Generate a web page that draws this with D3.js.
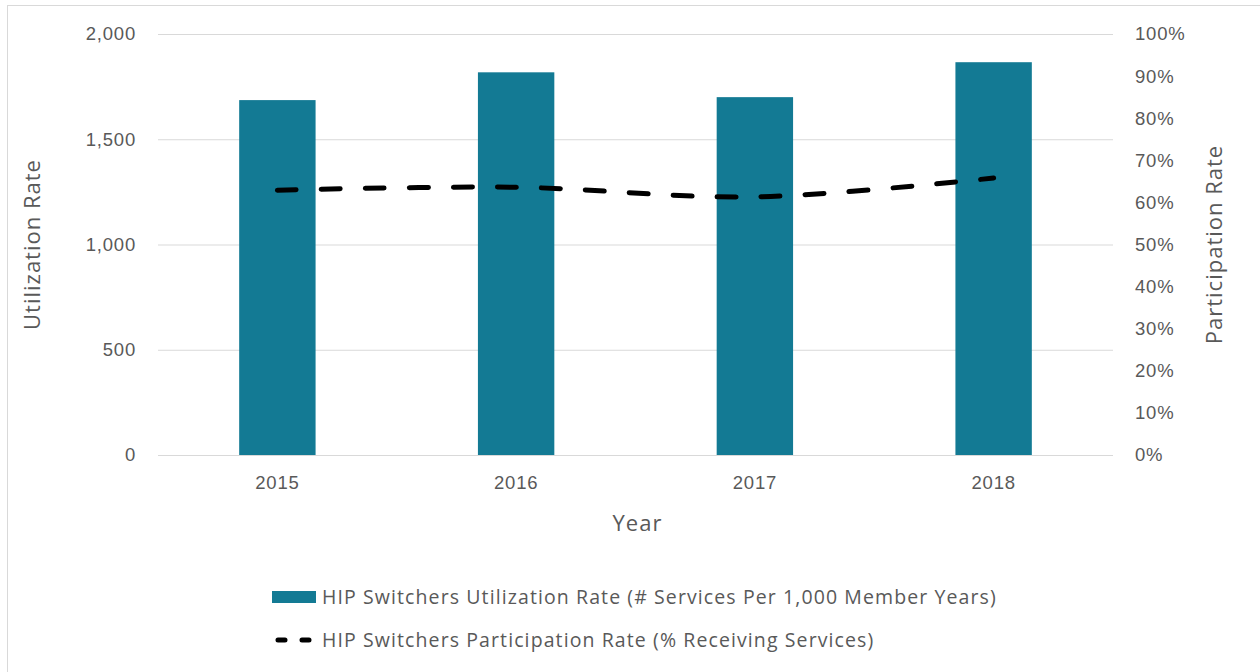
<!DOCTYPE html>
<html>
<head>
<meta charset="utf-8">
<script src="https://cdn.jsdelivr.net/npm/d3@7"></script>
<style>
  body { margin: 0; background: #fff; }
  svg { display: block; font-family: "Open Sans", sans-serif; }
</style>
</head>
<body>
<div id="chart"></div>
<script>
// Utilization (bars, left axis) + participation (dashed line, right axis)
const years = ['2015', '2016', '2017', '2018'];
const utilization = [1686, 1818, 1700, 1866];
const participation = [0.629, 0.636, 0.613, 0.658];
const leftTicks = [0, 500, 1000, 1500, 2000];
const rightTicks = [0, 0.1, 0.2, 0.3, 0.4, 0.5, 0.6, 0.7, 0.8, 0.9, 1];
const legendLabels = [
  'HIP Switchers Utilization Rate (# Services Per 1,000 Member Years)',
  'HIP Switchers Participation Rate (% Receiving Services)'
];

const W = 1260, H = 672;
const margin = { top: 34, right: 147, bottom: 217, left: 158 };
const iw = W - margin.left - margin.right;
const ih = H - margin.top - margin.bottom;
const barColor = '#137a94';
const textColor = '#595959';

const svg = d3.select('#chart').append('svg').attr('width', W).attr('height', H);

svg.append('rect')
  .attr('x', 7.5).attr('y', 5.5).attr('width', W).attr('height', H)
  .attr('fill', 'none').attr('stroke', '#d9d9d9');

const g = svg.append('g').attr('transform', `translate(${margin.left},${margin.top})`);

const x = d3.scaleBand().domain(years).range([0, iw]).paddingInner(0.68).paddingOuter(0.34);
const yL = d3.scaleLinear().domain([0, 2000]).range([ih, 0]);
const yR = d3.scaleLinear().domain([0, 1]).range([ih, 0]);

// gridlines
g.append('g').selectAll('line').data(leftTicks).join('line')
  .attr('x1', 0).attr('x2', iw)
  .attr('y1', d => yL(d) + 0.5).attr('y2', d => yL(d) + 0.5)
  .attr('stroke', '#d9d9d9').attr('stroke-width', 1);

// bars
g.append('g').selectAll('rect').data(years).join('rect')
  .attr('x', d => x(d))
  .attr('width', x.bandwidth())
  .attr('y', (d, i) => yL(utilization[i]))
  .attr('height', (d, i) => ih - yL(utilization[i]))
  .attr('fill', barColor);

// dashed line
const line = d3.line()
  .x((d, i) => x(years[i]) + x.bandwidth() / 2)
  .y(d => yR(d))
  .curve(d3.curveCatmullRom.alpha(0.5));

g.append('path')
  .datum(participation)
  .attr('d', line)
  .attr('fill', 'none')
  .attr('stroke', '#000')
  .attr('stroke-width', 5)
  .attr('stroke-linecap', 'round')
  .attr('stroke-dasharray', '19,25');

// axes
const axL = g.append('g')
  .call(d3.axisLeft(yL).tickValues(leftTicks).tickFormat(d3.format(',')).tickSize(0).tickPadding(22));
const axR = g.append('g').attr('transform', `translate(${iw},0)`)
  .call(d3.axisRight(yR).tickValues(rightTicks).tickFormat(d3.format('.0%')).tickSize(0).tickPadding(22));
const axB = g.append('g').attr('transform', `translate(0,${ih})`)
  .call(d3.axisBottom(x).tickSize(0).tickPadding(21));

[axL, axR, axB].forEach(a => {
  a.select('.domain').remove();
  a.selectAll('text').attr('fill', textColor)
    .style('font-size', '18.5px').style('letter-spacing', '0.8px');
});

// titles
const title = (sel) => sel.attr('text-anchor', 'middle').attr('fill', textColor)
  .style('font-size', '22px').style('letter-spacing', '1px');

svg.append('text')
  .attr('transform', `translate(40,${margin.top + ih / 2}) rotate(-90)`)
  .call(title).text('Utilization Rate');

svg.append('text')
  .attr('transform', `translate(1222,${margin.top + ih / 2}) rotate(-90)`)
  .call(title).text('Participation Rate');

svg.append('text')
  .attr('x', margin.left + iw / 2 + 2).attr('y', 531)
  .call(title).text('Year');

// legend
const lg = svg.append('g').attr('transform', 'translate(272,597)');
lg.append('rect').attr('x', 0).attr('y', -6).attr('width', 44).attr('height', 12).attr('fill', barColor);
lg.append('line')
  .attr('x1', 6).attr('x2', 42).attr('y1', 43).attr('y2', 43)
  .attr('stroke', '#000').attr('stroke-width', 5)
  .attr('stroke-linecap', 'round').attr('stroke-dasharray', '7,17');
lg.selectAll('text.lbl').data(legendLabels).join('text')
  .attr('class', 'lbl')
  .attr('x', 50).attr('y', (d, i) => i * 43)
  .attr('dy', '0.35em')
  .attr('fill', textColor)
  .style('font-size', '19.5px').style('letter-spacing', '1.1px')
  .text(d => d);
</script>
</body>
</html>
